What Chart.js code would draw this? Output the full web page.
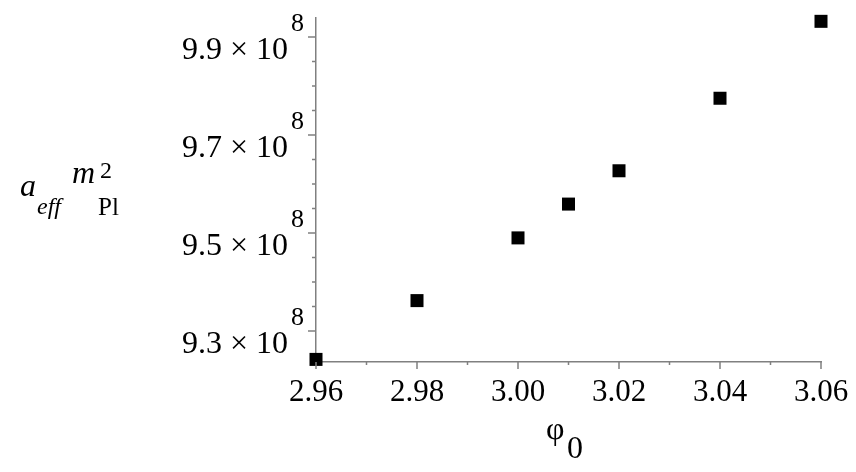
<!DOCTYPE html>
<html>
<head>
<meta charset="utf-8">
<script src="https://cdn.jsdelivr.net/npm/chart.js@4/dist/chart.umd.min.js"></script>
<style>
  body { margin: 0; background: #fff; }
  #wrap { width: 856px; height: 472px; }
</style>
</head>
<body>
<div id="wrap"><canvas id="chart" width="856" height="472"></canvas></div>
<script>
// values
const phi0 = [2.96, 2.98, 3.00, 3.01, 3.02, 3.04, 3.06];
const aeff = [9.242e8, 9.362e8, 9.490e8, 9.559e8, 9.627e8, 9.775e8, 9.932e8];

const xMajor = [2.96, 2.98, 3.00, 3.02, 3.04, 3.06];
const xMinor = [2.97, 2.99, 3.01, 3.03, 3.05];
const yMajor = [9.3e8, 9.5e8, 9.7e8, 9.9e8];
const yMinor = [9.35e8, 9.4e8, 9.45e8, 9.55e8, 9.6e8, 9.65e8, 9.75e8, 9.8e8, 9.85e8];
const yMajorText = ['9.3', '9.5', '9.7', '9.9'];

const axisGrey = '#808080';
const serif = "'Liberation Serif', 'DejaVu Serif', serif";

const axisDecor = {
  id: 'axisDecor',
  afterDraw(chart) {
    const { ctx, scales: { x, y } } = chart;
    const x0 = x.left, y0 = y.bottom;
    ctx.save();
    ctx.strokeStyle = axisGrey;
    ctx.lineWidth = 1.5;
    ctx.beginPath();
    xMajor.forEach(v => { const p = x.getPixelForValue(v); ctx.moveTo(p, y0); ctx.lineTo(p, y0 + 7); });
    xMinor.forEach(v => { const p = x.getPixelForValue(v); ctx.moveTo(p, y0); ctx.lineTo(p, y0 + 3); });
    yMajor.forEach(v => { const p = y.getPixelForValue(v); ctx.moveTo(x0, p); ctx.lineTo(x0 - 8, p); });
    yMinor.forEach(v => { const p = y.getPixelForValue(v); ctx.moveTo(x0, p); ctx.lineTo(x0 - 4, p); });
    ctx.stroke();

    ctx.fillStyle = '#000';
    ctx.textBaseline = 'alphabetic';

    // x tick labels
    ctx.font = '31px ' + serif;
    ctx.textAlign = 'center';
    xMajor.forEach(v => ctx.fillText(v.toFixed(2), x.getPixelForValue(v), y0 + 39));

    // y tick labels, "9.3 × 10" with a raised 8
    yMajor.forEach((v, i) => {
      const p = y.getPixelForValue(v);
      ctx.font = '32px ' + serif;
      ctx.textAlign = 'right';
      ctx.fillText(yMajorText[i] + ' \u00d7 10', x0 - 28, p + 22);
      ctx.font = '26px ' + serif;
      ctx.textAlign = 'left';
      ctx.fillText('8', x0 - 25, p - 6);
    });

    // x title: φ0
    ctx.textAlign = 'left';
    ctx.font = '32px ' + serif;
    ctx.fillText('\u03c6', 546, 439);
    ctx.fillText('0', 567, 458);

    // y title: a_eff m_Pl^2
    ctx.font = 'italic 32px ' + serif;
    ctx.fillText('a', 20, 196);
    ctx.fillText('m', 72, 183);
    ctx.font = 'italic 24px ' + serif;
    ctx.fillText('eff', 37, 214);
    ctx.font = '24px ' + serif;
    ctx.fillText('2', 100, 178);
    ctx.font = '25px ' + serif;
    ctx.fillText('Pl', 98, 215);
    ctx.restore();
  }
};

new Chart(document.getElementById('chart'), {
  type: 'scatter',
  data: {
    datasets: [{
      data: phi0.map((v, i) => ({ x: v, y: aeff[i] })),
      pointStyle: 'rect',
      pointRadius: 9.2,
      pointHoverRadius: 9.2,
      pointBorderWidth: 0,
      backgroundColor: '#000',
      borderColor: '#000',
      clip: false
    }]
  },
  options: {
    responsive: false,
    animation: false,
    events: [],
    layout: { autoPadding: false, padding: { left: 0, top: 18, right: 35, bottom: 0 } },
    plugins: { legend: { display: false }, tooltip: { enabled: false } },
    scales: {
      x: {
        type: 'linear',
        min: 2.96,
        max: 3.06,
        grid: { display: false },
        ticks: { display: false },
        border: { display: true, color: axisGrey, width: 1.5 },
        afterFit(scale) { scale.height = 110; }
      },
      y: {
        type: 'linear',
        min: 9.2367e8,
        max: 9.9388e8,
        grid: { display: false },
        ticks: { display: false },
        border: { display: true, color: axisGrey, width: 1.5 },
        afterFit(scale) { scale.width = 316; }
      }
    }
  },
  plugins: [axisDecor]
});
</script>
</body>
</html>
